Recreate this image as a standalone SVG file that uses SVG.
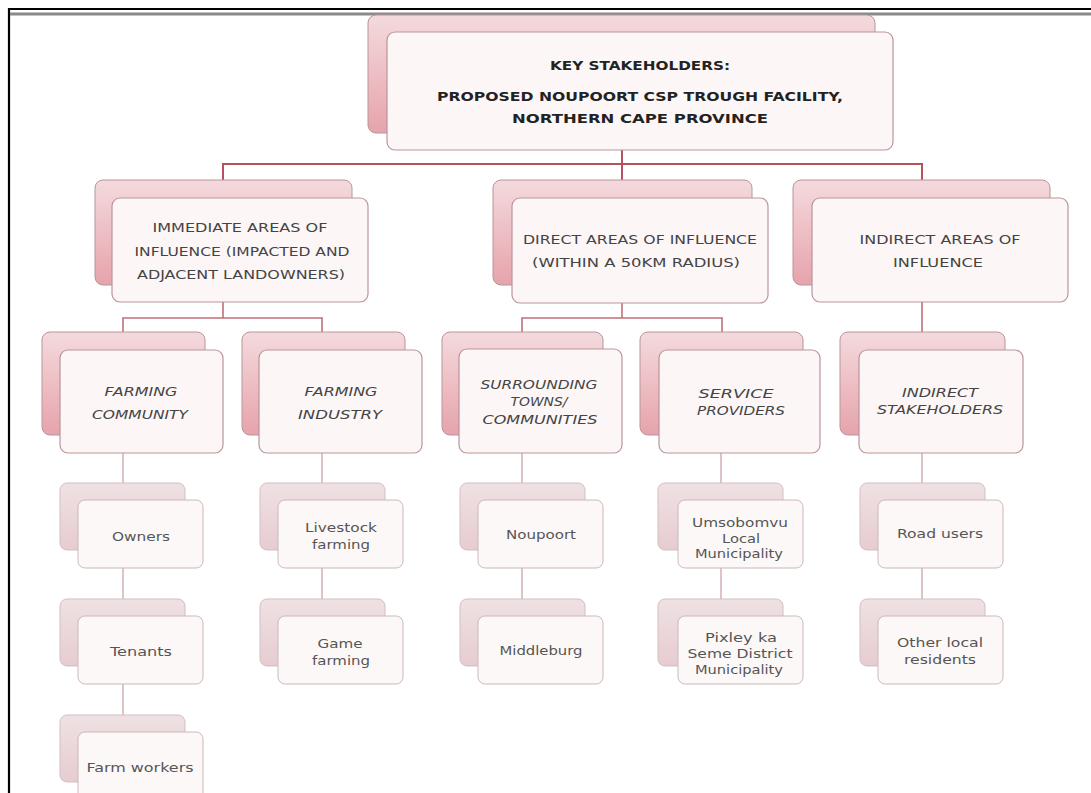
<svg xmlns="http://www.w3.org/2000/svg" width="1091" height="793" viewBox="0 0 1091 793">
<defs>
<linearGradient id="gBack" x1="0" y1="0" x2="0" y2="1">
<stop offset="0" stop-color="#f4dadd"/>
<stop offset="1" stop-color="#e6a3ab"/>
</linearGradient>
<linearGradient id="gBack4" x1="0" y1="0" x2="0" y2="1">
<stop offset="0" stop-color="#efe1e3"/>
<stop offset="1" stop-color="#e6ccd0"/>
</linearGradient>
<style>
.bk{fill:url(#gBack);stroke:#b8959a;stroke-width:1}
.bk4{fill:url(#gBack4);stroke:#d3bfc2;stroke-width:1}
.fr{fill:#fdf6f7;stroke:#b9959a;stroke-width:1.2}
.fr4{fill:#fdf8f8;stroke:#cdb7ba;stroke-width:1}
.t1{font-family:"DejaVu Sans","Liberation Sans",sans-serif;font-weight:bold;font-size:11.5px;fill:#222;text-anchor:middle}
.t2{font-family:"DejaVu Sans","Liberation Sans",sans-serif;font-size:12px;fill:#444;text-anchor:middle}
.t3{font-family:"DejaVu Sans","Liberation Sans",sans-serif;font-style:italic;font-size:11.5px;fill:#444;text-anchor:middle}
.t4{font-family:"DejaVu Sans","Liberation Sans",sans-serif;font-size:12px;fill:#555;text-anchor:middle}
.c1{fill:none;stroke:#b5525d;stroke-width:2}
.c2{fill:none;stroke:#c26e77;stroke-width:1.6}
.c3{fill:none;stroke:#d6b6b9;stroke-width:1.6}
</style>
</defs>
<rect width="1091" height="793" fill="#ffffff"/>
<g id="frame">
<line x1="8" y1="9" x2="1091" y2="9" stroke="#000" stroke-width="2.2"/>
<line x1="9" y1="8" x2="9" y2="793" stroke="#000" stroke-width="2.2"/>
<line x1="10" y1="14" x2="1091" y2="14" stroke="#8a8a8a" stroke-width="3"/>
</g>
<g id="connectors">
<path class="c1" d="M622,150 V164 M223,181 V164 H922 V181 M622,164 V181"/>
<path class="c2" d="M223,302 V318 M123,333 V318 H322 V333 M622,303 V318 M522,333 V318 H722 V333 M922,302 V333"/>
<path class="c3" d="M123,453 V483 M123,568 V599 M123,684 V715 M322,453 V483 M322,568 V599 M522,453 V483 M522,568 V599 M721,453 V483 M721,568 V599 M922,453 V483 M922,568 V599"/>
</g>
<g id="n-top">
<rect class="bk" x="368" y="15" width="507" height="118" rx="8"/>
<rect class="fr" x="387" y="32" width="506" height="118" rx="8"/>
<text class="t1" x="640" y="70" textLength="180" lengthAdjust="spacingAndGlyphs">KEY STAKEHOLDERS:</text>
<text class="t1" x="640" y="101" textLength="406" lengthAdjust="spacingAndGlyphs">PROPOSED NOUPOORT CSP TROUGH FACILITY,</text>
<text class="t1" x="640" y="123" textLength="256" lengthAdjust="spacingAndGlyphs">NORTHERN CAPE PROVINCE</text>
</g>
<g id="n-immediate">
<rect class="bk" x="95" y="180" width="257" height="105" rx="8"/>
<rect class="fr" x="112" y="198" width="256" height="104" rx="8"/>
<text class="t2" x="240" y="232" textLength="175" lengthAdjust="spacingAndGlyphs">IMMEDIATE AREAS OF</text>
<text class="t2" x="242" y="256" textLength="215" lengthAdjust="spacingAndGlyphs">INFLUENCE (IMPACTED AND</text>
<text class="t2" x="241" y="279" textLength="208" lengthAdjust="spacingAndGlyphs">ADJACENT LANDOWNERS)</text>
</g>
<g id="n-direct">
<rect class="bk" x="493" y="180" width="259" height="105" rx="8"/>
<rect class="fr" x="512" y="198" width="256" height="105" rx="8"/>
<text class="t2" x="640" y="244" textLength="234" lengthAdjust="spacingAndGlyphs">DIRECT AREAS OF INFLUENCE</text>
<text class="t2" x="636" y="267" textLength="208" lengthAdjust="spacingAndGlyphs">(WITHIN A 50KM RADIUS)</text>
</g>
<g id="n-indirect">
<rect class="bk" x="793" y="180" width="257" height="105" rx="8"/>
<rect class="fr" x="812" y="198" width="256" height="104" rx="8"/>
<text class="t2" x="940" y="244" textLength="161" lengthAdjust="spacingAndGlyphs">INDIRECT AREAS OF</text>
<text class="t2" x="938" y="267" textLength="90" lengthAdjust="spacingAndGlyphs">INFLUENCE</text>
</g>
<g id="n-farming-community">
<rect class="bk" x="42" y="332" width="163" height="103" rx="8"/>
<rect class="fr" x="60" y="350" width="163" height="103" rx="8"/>
<text class="t3" x="141" y="396" textLength="73" lengthAdjust="spacingAndGlyphs">FARMING</text>
<text class="t3" x="140" y="419" textLength="96" lengthAdjust="spacingAndGlyphs">COMMUNITY</text>
</g>
<g id="n-farming-industry">
<rect class="bk" x="242" y="332" width="163" height="103" rx="8"/>
<rect class="fr" x="259" y="350" width="163" height="103" rx="8"/>
<text class="t3" x="341" y="396" textLength="73" lengthAdjust="spacingAndGlyphs">FARMING</text>
<text class="t3" x="340" y="419" textLength="84" lengthAdjust="spacingAndGlyphs">INDUSTRY</text>
</g>
<g id="n-surrounding">
<rect class="bk" x="442" y="332" width="161" height="103" rx="8"/>
<rect class="fr" x="459" y="349" width="163" height="104" rx="8"/>
<text class="t3" x="539" y="389" textLength="117" lengthAdjust="spacingAndGlyphs">SURROUNDING</text>
<text class="t3" x="539" y="406" textLength="57" lengthAdjust="spacingAndGlyphs">TOWNS/</text>
<text class="t3" x="540" y="424" textLength="115" lengthAdjust="spacingAndGlyphs">COMMUNITIES</text>
</g>
<g id="n-service">
<rect class="bk" x="640" y="332" width="163" height="103" rx="8"/>
<rect class="fr" x="659" y="350" width="161" height="103" rx="8"/>
<text class="t3" x="736" y="398" textLength="75" lengthAdjust="spacingAndGlyphs">SERVICE</text>
<text class="t3" x="741" y="415" textLength="88" lengthAdjust="spacingAndGlyphs">PROVIDERS</text>
</g>
<g id="n-indirect-stakeholders">
<rect class="bk" x="840" y="332" width="165" height="103" rx="8"/>
<rect class="fr" x="859" y="350" width="164" height="103" rx="8"/>
<text class="t3" x="940" y="397" textLength="76" lengthAdjust="spacingAndGlyphs">INDIRECT</text>
<text class="t3" x="940" y="414" textLength="126" lengthAdjust="spacingAndGlyphs">STAKEHOLDERS</text>
</g>
<g id="n-owners">
<rect class="bk4" x="60" y="483" width="125" height="67" rx="7"/>
<rect class="fr4" x="78" y="500" width="125" height="68" rx="7"/>
<text class="t4" x="141" y="541" textLength="58" lengthAdjust="spacingAndGlyphs">Owners</text>
</g>
<g id="n-tenants">
<rect class="bk4" x="60" y="599" width="125" height="67" rx="7"/>
<rect class="fr4" x="78" y="616" width="125" height="68" rx="7"/>
<text class="t4" x="141" y="656" textLength="62" lengthAdjust="spacingAndGlyphs">Tenants</text>
</g>
<g id="n-farm-workers">
<rect class="bk4" x="60" y="715" width="125" height="67" rx="7"/>
<rect class="fr4" x="78" y="732" width="125" height="68" rx="7"/>
<text class="t4" x="140" y="772" textLength="107" lengthAdjust="spacingAndGlyphs">Farm workers</text>
</g>
<g id="n-livestock">
<rect class="bk4" x="260" y="483" width="125" height="67" rx="7"/>
<rect class="fr4" x="278" y="500" width="125" height="68" rx="7"/>
<text class="t4" x="341" y="532" textLength="72" lengthAdjust="spacingAndGlyphs">Livestock</text>
<text class="t4" x="341" y="549" textLength="58" lengthAdjust="spacingAndGlyphs">farming</text>
</g>
<g id="n-game">
<rect class="bk4" x="260" y="599" width="125" height="67" rx="7"/>
<rect class="fr4" x="278" y="616" width="125" height="68" rx="7"/>
<text class="t4" x="340" y="648" textLength="45" lengthAdjust="spacingAndGlyphs">Game</text>
<text class="t4" x="341" y="665" textLength="58" lengthAdjust="spacingAndGlyphs">farming</text>
</g>
<g id="n-noupoort">
<rect class="bk4" x="460" y="483" width="125" height="67" rx="7"/>
<rect class="fr4" x="478" y="500" width="125" height="68" rx="7"/>
<text class="t4" x="541" y="539" textLength="70" lengthAdjust="spacingAndGlyphs">Noupoort</text>
</g>
<g id="n-middleburg">
<rect class="bk4" x="460" y="599" width="125" height="67" rx="7"/>
<rect class="fr4" x="478" y="616" width="125" height="68" rx="7"/>
<text class="t4" x="541" y="655" textLength="83" lengthAdjust="spacingAndGlyphs">Middleburg</text>
</g>
<g id="n-umsobomvu">
<rect class="bk4" x="658" y="483" width="125" height="67" rx="7"/>
<rect class="fr4" x="678" y="500" width="125" height="68" rx="7"/>
<text class="t4" x="740" y="527" textLength="96" lengthAdjust="spacingAndGlyphs">Umsobomvu</text>
<text class="t4" x="741" y="543" textLength="38" lengthAdjust="spacingAndGlyphs">Local</text>
<text class="t4" x="739" y="558" textLength="88" lengthAdjust="spacingAndGlyphs">Municipality</text>
</g>
<g id="n-pixley">
<rect class="bk4" x="658" y="599" width="125" height="67" rx="7"/>
<rect class="fr4" x="678" y="616" width="125" height="68" rx="7"/>
<text class="t4" x="741" y="642" textLength="72" lengthAdjust="spacingAndGlyphs">Pixley ka</text>
<text class="t4" x="740" y="658" textLength="105" lengthAdjust="spacingAndGlyphs">Seme District</text>
<text class="t4" x="739" y="674" textLength="88" lengthAdjust="spacingAndGlyphs">Municipality</text>
</g>
<g id="n-road-users">
<rect class="bk4" x="860" y="483" width="125" height="67" rx="7"/>
<rect class="fr4" x="878" y="500" width="125" height="68" rx="7"/>
<text class="t4" x="940" y="538" textLength="86" lengthAdjust="spacingAndGlyphs">Road users</text>
</g>
<g id="n-other-local">
<rect class="bk4" x="860" y="599" width="125" height="67" rx="7"/>
<rect class="fr4" x="878" y="616" width="125" height="68" rx="7"/>
<text class="t4" x="940" y="647" textLength="86" lengthAdjust="spacingAndGlyphs">Other local</text>
<text class="t4" x="940" y="664" textLength="72" lengthAdjust="spacingAndGlyphs">residents</text>
</g>
</svg>
